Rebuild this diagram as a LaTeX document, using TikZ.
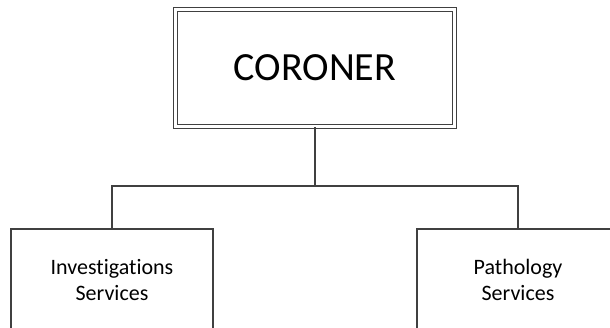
\documentclass[tikz,border=0pt]{standalone}
\usepackage{fontspec}
\setmainfont{Carlito}[Ligatures=NoCommon]
\begin{document}
\begin{tikzpicture}[
  x=1pt, y=-1pt,
  box/.style = {draw=black!75, line width=1.3pt, align=center, inner sep=0pt},
  topbox/.style = {box, double, double distance=2.5pt, line width=1.3pt,
                   minimum width=279pt, minimum height=117pt,
                   font=\fontsize{40}{48}\selectfont},
  unitbox/.style = {box, minimum width=202pt, minimum height=107.6pt,
                    font=\fontsize{22}{26}\selectfont},
  link/.style = {draw=black!75, line width=1.5pt}
]
\useasboundingbox (0,0) rectangle (610,328);

% Head of the chart
\node [topbox] (coroner) at (315,68) {CORONER};

% Units below, cut by the page edge
\node [unitbox] (invest) at (112,282.8) {\strut Investigations\\\strut Services};
\node [unitbox] (patho) at (518,282.8) {\strut Pathology\\\strut Services};

% Connectors
\draw [link] (coroner.south) -- ++(0,59) coordinate (split);
\draw [link] (split) -| (invest.north);
\draw [link] (split) -| (patho.north);

\end{tikzpicture}
\end{document}
